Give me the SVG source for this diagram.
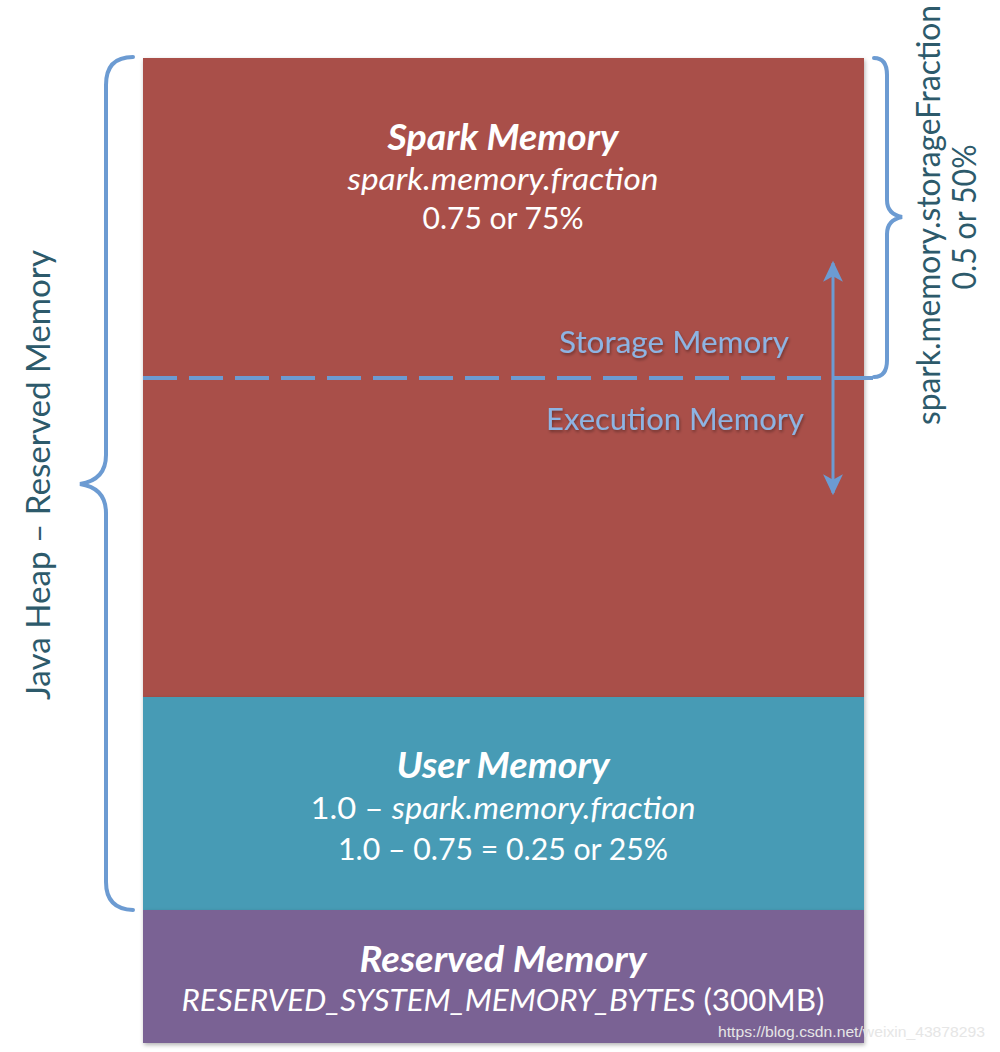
<svg xmlns="http://www.w3.org/2000/svg" width="1000" height="1052" viewBox="0 0 1000 1052">
<defs>
<filter id="sh" x="-5%" y="-5%" width="110%" height="110%"><feDropShadow dx="1" dy="2" stdDeviation="2" flood-color="#000" flood-opacity="0.3"/></filter>
<filter id="tsh" x="-5%" y="-20%" width="110%" height="140%"><feDropShadow dx="1" dy="2" stdDeviation="1.5" flood-color="#000" flood-opacity="0.35"/></filter>
<marker id="ah" viewBox="0 0 20 20" refX="17" refY="10" markerWidth="22" markerHeight="22" markerUnits="userSpaceOnUse" orient="auto-start-reverse">
<path d="M0,1 L19,10 L0,19 L5,10 Z" fill="#6c9bd2"/>
</marker>
</defs>
<style>
text{font-family:Lato,"Open Sans","Liberation Sans",sans-serif;}
.w{fill:#fff;text-anchor:middle;}
.h{font-size:36px;font-weight:bold;font-style:italic;}
.s{font-size:30px;}
.it{font-style:italic;}
.b{fill:#8db4e3;font-size:31px;text-anchor:middle;}
.side{fill:#2d5a6b;font-size:32px;text-anchor:middle;}
.br{fill:none;stroke:#6c9bd2;stroke-width:4;stroke-linecap:round;}
</style>
<rect width="1000" height="1052" fill="#fff"/>
<g id="spark-memory">
<rect x="143" y="58" width="721" height="639" fill="#a9504a" filter="url(#sh)"/>
<text class="w h" x="503" y="150" textLength="231" lengthAdjust="spacingAndGlyphs">Spark Memory</text>
<text class="w s it" x="503" y="190" textLength="311" lengthAdjust="spacingAndGlyphs">spark.memory.fraction</text>
<text class="w s" x="503" y="229" textLength="161" lengthAdjust="spacingAndGlyphs">0.75 or 75%</text>
</g>
<g id="user-memory">
<rect x="143" y="697" width="721" height="213" fill="#479bb5" filter="url(#sh)"/>
<text class="w h" x="503" y="778" textLength="213" lengthAdjust="spacingAndGlyphs">User Memory</text>
<text class="w s" x="503" y="819" textLength="385" lengthAdjust="spacingAndGlyphs">1.0 – <tspan class="it">spark.memory.fraction</tspan></text>
<text class="w s" x="503" y="860" textLength="330" lengthAdjust="spacingAndGlyphs">1.0 – 0.75 = 0.25 or 25%</text>
</g>
<g id="reserved-memory">
<rect x="143" y="910" width="721" height="133" fill="#7a6294" filter="url(#sh)"/>
<text class="w h" x="503" y="972" textLength="287" lengthAdjust="spacingAndGlyphs">Reserved Memory</text>
<text class="w s" x="503" y="1011" textLength="643" lengthAdjust="spacingAndGlyphs"><tspan class="it">RESERVED_SYSTEM_MEMORY_BYTES</tspan> (300MB)</text>
</g>
<g id="storage-label"><text class="b" x="674" y="353" textLength="230" lengthAdjust="spacingAndGlyphs" filter="url(#tsh)">Storage Memory</text></g>
<g id="execution-label"><text class="b" x="675" y="430" textLength="258" lengthAdjust="spacingAndGlyphs" filter="url(#tsh)">Execution Memory</text></g>
<g id="java-heap-label"><text class="side" transform="translate(50,475) rotate(-90)" textLength="450" lengthAdjust="spacingAndGlyphs">Java Heap – Reserved Memory</text></g>
<g id="storage-fraction-label">
<text class="side" transform="translate(940,215) rotate(-90)" textLength="420" lengthAdjust="spacingAndGlyphs">spark.memory.storageFraction</text>
<text class="side" transform="translate(976,217) rotate(-90)" textLength="145" lengthAdjust="spacingAndGlyphs">0.5 or 50%</text>
</g>
<g id="connectors">
<line x1="143" y1="378" x2="864" y2="378" stroke="#6c9bd2" stroke-width="4" stroke-dasharray="34 12"/>
<line x1="833" y1="378" x2="873" y2="378" stroke="#6c9bd2" stroke-width="4"/>
<line x1="833" y1="263" x2="833" y2="493" stroke="#6c9bd2" stroke-width="3" marker-start="url(#ah)" marker-end="url(#ah)"/>
<path class="br" d="M133,57 Q106,57 106,85 L106,455 Q106,480 80,484 Q106,488 106,513 L106,882 Q106,909 133,910"/>
<path class="br" d="M874,58 Q887,58 887,75 L887,200 Q887,214 902,217 Q887,220 887,234 L887,360 Q887,377 874,377"/>
</g>
<text x="718" y="1037" font-size="15" fill="#e6e6e6" style="font-family:'Liberation Sans',sans-serif" textLength="267" lengthAdjust="spacingAndGlyphs">https://blog.csdn.net/weixin_43878293</text>
</svg>
